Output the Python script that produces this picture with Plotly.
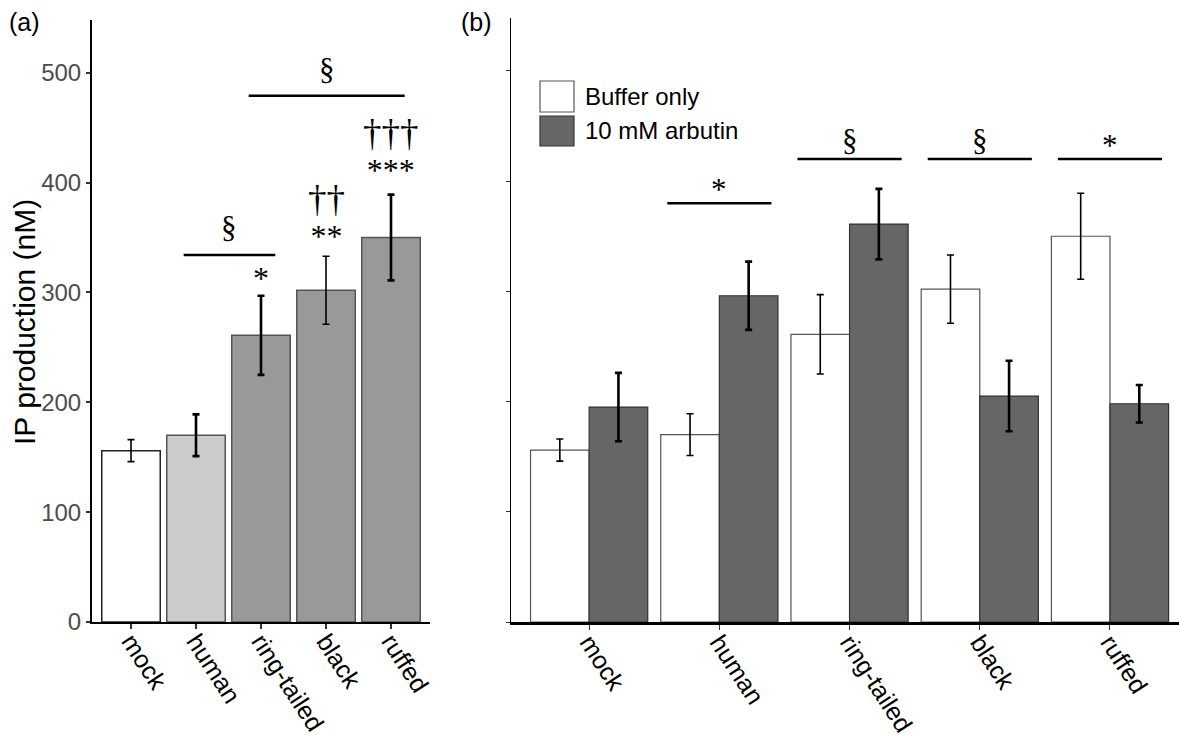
import plotly.graph_objects as go

W, H = 1179, 745

# ---------------- data ----------------
categories = ["mock", "human", "ring-tailed", "black", "ruffed"]
ip_mean = [156, 170, 261, 302, 350]          # panel (a) and buffer-only in (b)
ip_err = [10, 19, 36, 31, 39]
arbutin_mean = [195, 296, 361, 205, 198]     # 10 mM arbutin in (b)
arbutin_err = [31, 31, 32, 32, 17]
y_ticks = [0, 100, 200, 300, 400, 500]

# significance marks: (x0, x1, line y, label, label y)
a_brackets = [(1.81, 4.21, 479, "§", 503), (0.81, 2.22, 334, "§", 359)]
a_stars = [(2, 313, "*")]
a_stacks = [(3, 369, "††", "**"), (4, 429, "†††", "***")]
b_brackets = [(0.6, 1.4, 380, "*", 392), (1.6, 2.4, 420, "§", 437),
              (2.6, 3.4, 420, "§", 437), (3.6, 4.4, 420, "*", 432)]

# ---------------- styles ----------------
a_fill = ["#ffffff", "#cccccc", "#999999", "#999999", "#999999"]
a_line = ["#222222", "#555555", "#555555", "#555555", "#555555"]
a_errw = [1.6, 2.6, 2.6, 1.6, 2.6]
SANS = "Liberation Sans, Arial, sans-serif"
SERIF = "Liberation Serif, Times New Roman, serif"


def px_x(p):
    return p / W


def px_y(p):
    return 1 - p / H


fig = go.Figure()

# panel (a)
for i, c in enumerate(categories):
    fig.add_trace(go.Bar(
        x=[c], y=[ip_mean[i]], xaxis="x", yaxis="y", offsetgroup="a",
        marker=dict(color=a_fill[i], line=dict(color=a_line[i], width=1.5)),
        error_y=dict(type="data", array=[ip_err[i]], color="black",
                     thickness=a_errw[i], width=3.5),
        showlegend=False, hoverinfo="skip"))

# panel (b)
fig.add_trace(go.Bar(
    x=categories, y=ip_mean, xaxis="x2", yaxis="y2", offsetgroup="buf",
    name="Buffer only",
    marker=dict(color="#ffffff", line=dict(color="#555555", width=1.2)),
    error_y=dict(type="data", array=ip_err, color="black", thickness=1.6, width=3.5),
    showlegend=False, hoverinfo="skip"))
fig.add_trace(go.Bar(
    x=categories, y=arbutin_mean, xaxis="x2", yaxis="y2", offsetgroup="arb",
    name="10 mM arbutin",
    marker=dict(color="#666666", line=dict(color="#333333", width=1.2)),
    error_y=dict(type="data", array=arbutin_err, color="black", thickness=2.6, width=3.5),
    showlegend=False, hoverinfo="skip"))

shapes = []
annotations = []

for x0, x1, yl, lab, ylab in a_brackets:
    shapes.append(dict(type="line", xref="x", yref="y", x0=x0, x1=x1, y0=yl, y1=yl,
                       line=dict(color="black", width=2.5)))
    annotations.append(dict(xref="x", yref="y", x=(x0 + x1) / 2, y=ylab, text=lab,
                            showarrow=False, font=dict(family=SERIF, size=31, color="black")))
for xm, ym, lab in a_stars:
    annotations.append(dict(xref="x", yref="y", x=xm, y=ym, text=lab, showarrow=False,
                            font=dict(family=SERIF, size=32, color="black")))
for xm, ym, top, bottom in a_stacks:
    txt = ("<span style='font-size:37px'>" + top + "</span><br>"
           "<span style='font-size:32px'>" + bottom + "</span>")
    annotations.append(dict(xref="x", yref="y", x=xm, y=ym, text=txt, showarrow=False,
                            font=dict(family=SERIF, size=27, color="black")))
for x0, x1, yl, lab, ylab in b_brackets:
    shapes.append(dict(type="line", xref="x2", yref="y2", x0=x0, x1=x1, y0=yl, y1=yl,
                       line=dict(color="black", width=2.5)))
    annotations.append(dict(xref="x2", yref="y2", x=(x0 + x1) / 2, y=ylab, text=lab,
                            showarrow=False, font=dict(family=SERIF, size=31, color="black")))

# manual legend (panel b)
legend_items = [("Buffer only", "#ffffff", "#555555", 81, 112),
                ("10 mM arbutin", "#666666", "#333333", 116, 146)]
for lab, fc, lc, t, b in legend_items:
    shapes.append(dict(type="rect", xref="paper", yref="paper",
                       x0=px_x(540), x1=px_x(574), y0=px_y(b), y1=px_y(t),
                       fillcolor=fc, line=dict(color=lc, width=1.2)))
    annotations.append(dict(xref="paper", yref="paper", x=px_x(583), y=px_y((t + b) / 2),
                            xanchor="left", yanchor="middle", text=lab, showarrow=False,
                            font=dict(family=SANS, size=24, color="black")))

# panel labels and y title
annotations.append(dict(xref="paper", yref="paper", x=px_x(7), y=px_y(22), xanchor="left",
                        yanchor="middle", text="(a)", showarrow=False,
                        font=dict(family=SANS, size=25, color="black")))
annotations.append(dict(xref="paper", yref="paper", x=px_x(459), y=px_y(22), xanchor="left",
                        yanchor="middle", text="(b)", showarrow=False,
                        font=dict(family=SANS, size=25, color="black")))
annotations.append(dict(xref="paper", yref="paper", x=px_x(24), y=px_y(322), xanchor="center",
                        yanchor="middle", text="IP production (nM)", textangle=-90,
                        showarrow=False, font=dict(family=SANS, size=30, color="black")))

yr = [0, 548]
fig.update_layout(
    width=W, height=H, margin=dict(l=0, r=0, t=0, b=0),
    paper_bgcolor="white", plot_bgcolor="white",
    barmode="group", bargap=0.1, bargroupgap=0,
    font=dict(family=SANS),
    xaxis=dict(domain=[px_x(92), px_x(430)], anchor="y", type="category",
               range=[-0.6, 4.6], showline=True, linecolor="black", linewidth=2,
               ticks="outside", ticklen=5, tickwidth=1.5, tickcolor="#333333",
               tickangle=57, ticklabelstandoff=-12,
               tickfont=dict(size=25, color="black", family=SANS),
               showgrid=False, zeroline=False, automargin=False),
    yaxis=dict(domain=[px_y(622), px_y(20)], anchor="x", range=yr,
               tickvals=y_ticks, showline=True, linecolor="black", linewidth=2,
               ticks="outside", ticklen=4, tickwidth=1.5, tickcolor="#333333",
               tickfont=dict(size=24, color="#4d4d4d", family=SANS),
               showgrid=False, zeroline=False, automargin=False),
    xaxis2=dict(domain=[px_x(511), 1.0], anchor="y2", type="category",
                range=[-0.6, 4.53], showline=True, linecolor="black", linewidth=3,
                ticks="outside", ticklen=5, tickwidth=1.2, tickcolor="#333333",
                tickangle=57, ticklabelstandoff=-12,
                tickfont=dict(size=25, color="black", family=SANS),
                showgrid=False, zeroline=False, automargin=False),
    yaxis2=dict(domain=[px_y(622), px_y(18)], anchor="x2", range=yr,
                tickvals=y_ticks, showticklabels=False, showline=True,
                linecolor="black", linewidth=1.2, ticks="outside", ticklen=4,
                tickwidth=1.2, tickcolor="#333333",
                showgrid=False, zeroline=False, automargin=False),
    shapes=shapes, annotations=annotations,
)

fig.write_html("out.html", config={"displayModeBar": False},
               post_script="document.body.style.margin='0px';document.body.style.overflow='hidden';")
